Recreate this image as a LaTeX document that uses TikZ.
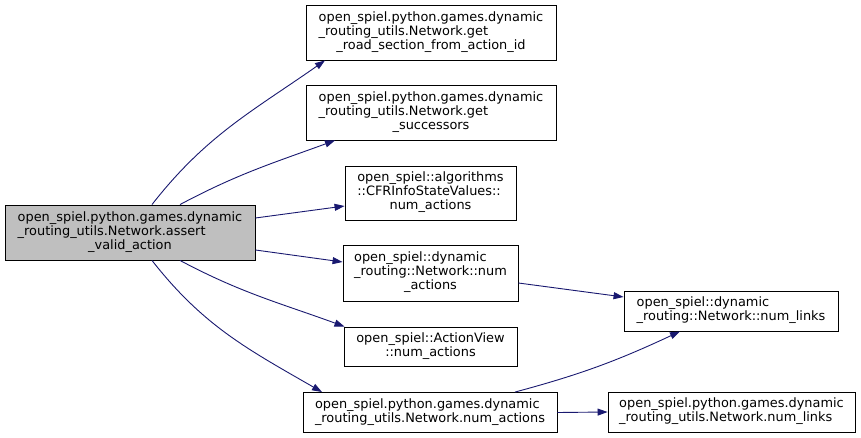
\documentclass[tikz,border=0pt]{standalone}
\usepackage{fontspec}
\setmainfont{DejaVu Sans}
\usetikzlibrary{arrows.meta}
\tikzset{
  box/.style={draw=black, line width=0.9pt, fill=white, inner sep=0pt, align=center,
    font=\fontsize{12.9}{14}\selectfont},
  rootbox/.style={box, fill=black!25},
  edge/.style={draw={rgb,255:red,25;green,25;blue,112}, line width=0.9pt,
    -{Triangle[length=10pt,width=7pt]}},
}
\newcommand{\lines}[1]{\begin{tabular}{@{}l@{}}#1\end{tabular}}
\newcommand{\lastc}[1]{\multicolumn{1}{@{}c@{}}{#1}}
\begin{document}
\begin{tikzpicture}[x=1pt,y=-1pt]
\useasboundingbox (0,0) rectangle (861,438);
\renewcommand{\arraystretch}{1}
\setlength{\tabcolsep}{0pt}
\node[rootbox, minimum width=250pt, minimum height=55pt] (root) at (130,232.5)
  {\lines{open\_spiel.python.games.dynamic\\\_routing\_utils.Network.assert\\\lastc{\_valid\_action}}};
\node[box, minimum width=250pt, minimum height=55pt] (n1) at (431,32.5)
  {\lines{open\_spiel.python.games.dynamic\\\_routing\_utils.Network.get\\\lastc{\_road\_section\_from\_action\_id}}};
\node[box, minimum width=250pt, minimum height=55pt] (n2) at (431,112.5)
  {\lines{open\_spiel.python.games.dynamic\\\_routing\_utils.Network.get\\\lastc{\_successors}}};
\node[box, minimum width=171pt, minimum height=54pt] (n3) at (430.5,193)
  {\lines{open\_spiel::algorithms\\::CFRInfoStateValues::\\\lastc{num\_actions}}};
\node[box, minimum width=175pt, minimum height=56pt] (n4) at (430.5,273)
  {\lines{open\_spiel::dynamic\\\_routing::Network::num\\\lastc{\_actions}}};
\node[box, minimum width=173pt, minimum height=39pt] (n5) at (430.5,346.5)
  {\lines{open\_spiel::ActionView\\\lastc{::num\_actions}}};
\node[box, minimum width=254pt, minimum height=40pt] (n6) at (430,412.5)
  {\lines{open\_spiel.python.games.dynamic\\\_routing\_utils.Network.num\_actions}};
\node[box, minimum width=214pt, minimum height=40pt] (n7) at (731,311)
  {\lines{open\_spiel::dynamic\\\_routing::Network::num\_links}};
\node[box, minimum width=247pt, minimum height=40pt] (n8) at (731.5,412)
  {\lines{open\_spiel.python.games.dynamic\\\_routing\_utils.Network.num\_links}};

\draw[edge] ([xshift=22pt]root.north) to[out=52,in=215] ([xshift=-106pt]n1.south);
\draw[edge] ([xshift=50pt]root.north) to[out=28,in=200] ([xshift=-96pt]n2.south);
\draw[edge] ([yshift=14.5pt]root.east) -- ([yshift=-13pt]n3.west);
\draw[edge] ([yshift=-17.5pt]root.east) -- ([yshift=11pt]n4.west);
\draw[edge] ([xshift=50pt]root.south) to[out=-28,in=160] ([xshift=-86pt]n5.north);
\draw[edge] ([xshift=22pt]root.south) to[out=-52,in=150] ([xshift=-108pt]n6.north);
\draw[edge] ([yshift=-10pt]n4.east) -- ([yshift=14pt]n7.west);
\draw[edge] ([xshift=85pt]n6.north) to[out=15,in=205] ([xshift=-51pt]n7.south);
\draw[edge] (n6.east) -- (n8.west);
\end{tikzpicture}
\end{document}
